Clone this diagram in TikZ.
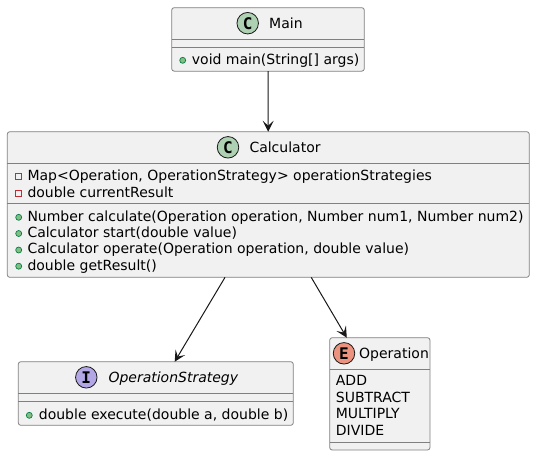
\documentclass[tikz,border=0pt]{standalone}
\usepackage{fontspec}
\setmainfont{DejaVu Sans}
\newfontfamily\spotfont{DejaVu Sans Mono}
\usetikzlibrary{arrows.meta}
\definecolor{boxfill}{HTML}{F1F1F1}
\definecolor{boxline}{HTML}{181818}
\definecolor{spotC}{HTML}{ADD1B2}
\definecolor{spotI}{HTML}{B4A7E5}
\definecolor{spotE}{HTML}{EB937F}
\definecolor{pubfill}{HTML}{84BE84}
\definecolor{publine}{HTML}{038048}
\definecolor{privline}{HTML}{C82930}
\tikzset{
  umlbox/.style = {
    draw=boxline!55,fill=boxfill,line width=0.8pt,rounded corners=2.5pt,
    inner sep=0pt,outer sep=0pt
  },
  umlsep/.style = {draw=boxline!55,line width=0.8pt},
  umlarrow/.style = {
    draw=boxline,line width=1pt,
    -{Stealth[length=11pt,width=11pt,inset=5pt]}
  },
  umltext/.style = {anchor=base west,inner sep=0pt,text=black,font=\fontsize{14}{15}\selectfont},
  spot/.style = {
    circle,draw=boxline,line width=0.8pt,minimum size=21.5pt,inner sep=0pt,
    text=black,font=\fontsize{16}{16}\selectfont\spotfont\bfseries
  },
  pub/.style = {circle,draw=publine,fill=pubfill,line width=0.7pt,minimum size=6pt,inner sep=0pt},
  priv/.style = {rectangle,draw=privline,line width=0.8pt,minimum size=6pt,inner sep=0pt}
}

\begin{document}
\begin{tikzpicture}[x=1pt,y=-1pt]
  \useasboundingbox (0,0) rectangle (535,456);
  %
  % boxes
  \node[umlbox,minimum width=192.6pt,minimum height=63.5pt] (main) at (268,39.4) {};
  \node[umlbox,minimum width=522pt,minimum height=145.6pt] (calculator) at (268.3,204.5) {};
  \node[umlbox,minimum width=275pt,minimum height=63.6pt] (strategy) at (155.8,393.5) {};
  \node[umlbox,minimum width=100.3pt,minimum height=112.3pt] (operation) at (379.85,393.85) {};
  % separators
  \draw[umlsep] (main.west |- 0,39.3) -- (main.east |- 0,39.3);
  \draw[umlsep] (main.west |- 0,47.5) -- (main.east |- 0,47.5);
  \draw[umlsep] (calculator.west |- 0,163.3) -- (calculator.east |- 0,163.3);
  \draw[umlsep] (calculator.west |- 0,203.7) -- (calculator.east |- 0,203.7);
  \draw[umlsep] (strategy.west |- 0,393.3) -- (strategy.east |- 0,393.3);
  \draw[umlsep] (strategy.west |- 0,401.3) -- (strategy.east |- 0,401.3);
  \draw[umlsep] (operation.west |- 0,369.3) -- (operation.east |- 0,369.3);
  \draw[umlsep] (operation.west |- 0,442.3) -- (operation.east |- 0,442.3);
  % Main
  \node[spot,fill=spotC] (mainspot) at (247.7,23.2) {C};
  \node[umltext] (maintitle) at (269,28.2) {Main};
  \node[pub] (mainpub) at (182.7,60.3) {};
  \node[umltext] (mainrun) at (191.7,64) {void main(String[] args)};
  % Calculator
  \node[spot,fill=spotC] (calcspot) at (228,147.3) {C};
  \node[umltext] (calctitle) at (249.3,152.3) {Calculator};
  \node[priv] (mapmark) at (18.7,176.3) {};
  \node[umltext] (mapfield) at (27.3,180) {Map<Operation, OperationStrategy> operationStrategies};
  \node[priv] (resmark) at (18.7,193.3) {};
  \node[umltext] (resfield) at (27.3,197) {double currentResult};
  \node[pub] (calcmark) at (18.7,217.3) {};
  \node[umltext] (calcrun) at (27.3,221) {Number calculate(Operation operation, Number num1, Number num2)};
  \node[pub] (startmark) at (18.7,233.5) {};
  \node[umltext] (startrun) at (27.3,237.3) {Calculator start(double value)};
  \node[pub] (opmark) at (18.7,250) {};
  \node[umltext] (oprun) at (27.3,253.5) {Calculator operate(Operation operation, double value)};
  \node[pub] (getmark) at (18.7,266.2) {};
  \node[umltext] (getrun) at (27.3,270) {double getResult()};
  % OperationStrategy
  \node[spot,fill=spotI] (stratspot) at (86.3,377.3) {I};
  \node[umltext,font=\fontsize{14}{15}\selectfont\itshape] (strattitle) at (108.3,382.3) {OperationStrategy};
  \node[pub] (stratmark) at (29.3,415.3) {};
  \node[umltext] (stratrun) at (38.7,419) {double execute(double a, double b)};
  % Operation
  \node[spot,fill=spotE] (opspot) at (344,353.3) {E};
  \node[umltext] (optitle) at (359,358.3) {Operation};
  \node[umltext] (addval) at (335.7,385.7) {ADD};
  \node[umltext] (subval) at (335.7,402.2) {SUBTRACT};
  \node[umltext] (mulval) at (335.7,418.7) {MULTIPLY};
  \node[umltext] (divval) at (335.7,435) {DIVIDE};
  % relations
  \draw[umlarrow] (main) -- (calculator);
  \draw[umlarrow] (calculator) -- (strategy);
  \draw[umlarrow] (calculator) -- (operation);
\end{tikzpicture}
\end{document}
